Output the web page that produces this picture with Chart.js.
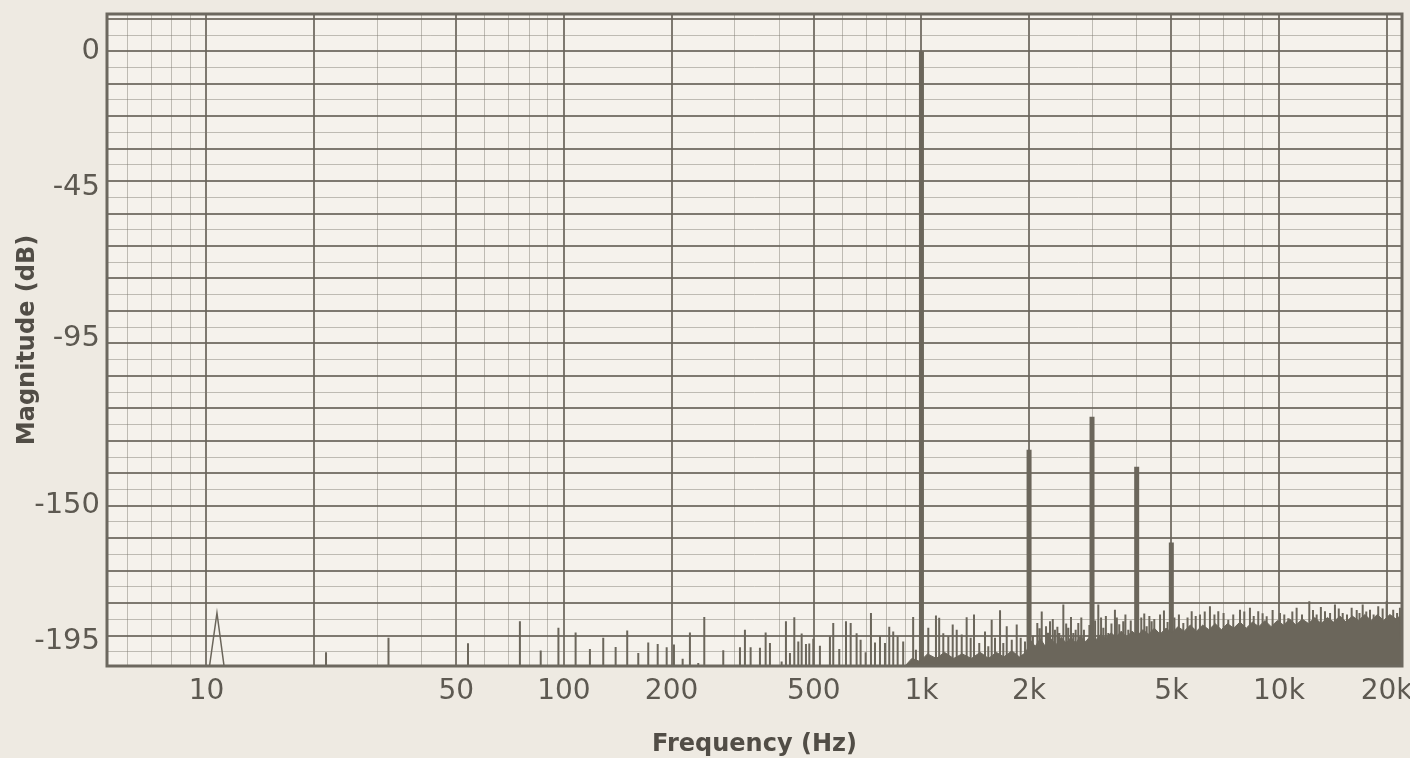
<!DOCTYPE html>
<html>
<head>
<meta charset="utf-8">
<script src="https://cdn.jsdelivr.net/npm/chart.js@4.4.1/dist/chart.umd.min.js"></script>
<style>
html,body{margin:0;padding:0;background:#eeeae2;}
#wrap{width:1410px;height:758px;position:relative;}
</style>
</head>
<body>
<div id="wrap"><canvas id="c" width="1410" height="758"></canvas></div>
<script>
// ---------------- data ----------------
const harmonicFreq = [1000, 2000, 3000, 4000, 5000];
const harmonicDb   = [0, -131.6, -120.7, -137.2, -162.2];

const humFreq = [10.2, 10.7, 11.2];
const humDb   = [-203, -185.5, -203];

const spikeFreq = [
  21.6, 32.3, 53.9, 75.3, 86.1, 96.5, 107.8, 118.2, 128.8, 139.5, 150.3, 161.4, 172.1, 182.9, 193.8,
  203.1, 214.8, 225.1, 237.5, 246.9, 279, 310.7, 320.8, 332.8, 353.4, 366.6, 376.9, 406.3, 417.8, 428.7,
  440.9, 452.4, 462.3, 475.3, 485.6, 498.3, 520, 554.6, 566.6, 589, 615, 633.9, 658.6, 675.8, 698,
  722.4, 741.3, 765.6, 790.6, 812.7, 833.8, 857.9, 889, 948, 965,
  1045, 1098, 1121, 1151, 1189, 1223, 1255, 1296, 1338, 1373, 1403, 1451, 1506, 1538, 1572, 1606, 1659,
  1694, 1732, 1789, 1847, 1895, 1948,
  2050, 2109, 2140, 2170, 2231, 2260, 2289, 2330, 2363, 2400, 2430, 2494, 2540, 2575, 2620, 2659, 2700,
  2746, 2800, 2848, 2950, 3060, 3124, 3180, 3227, 3280, 3331, 3400, 3477, 3520, 3575, 3668, 3720, 3789,
  3850, 4120, 4200, 4266, 4340, 4405, 4480, 4550, 4650, 4768, 4880, 5100, 5250, 5401, 5550, 5700, 5850,
  6012, 6200, 6412, 6600, 6766, 7000, 7215, 7450, 7780, 8000, 8296, 8500, 8752, 9000, 9240, 9600,
  10065, 10350, 10617, 10900, 11206, 11600, 12159, 12450, 12750, 13100, 13452, 13900, 14343, 14700,
  15077, 15500, 15973, 16500, 16800, 17149, 17550, 17976, 18400, 18955, 19500, 20010, 20875, 21400, 21800
];
const spikeDb = [
  -198.5, -193.7, -195.5, -188.2, -197.9, -190.4, -191.9, -197.4, -193.7, -196.7, -191.3, -198.7, -195.2, -195.7, -196.8,
  -195.9, -200.6, -191.9, -202, -186.8, -197.8, -196.8, -191, -196.8, -197, -191.9, -195.4, -201.5, -188.2, -198.7,
  -186.9, -194.9, -192.3, -195.7, -195.6, -194, -196.3, -193.2, -188.8, -197.4, -188.2, -188.8, -192.2, -194.3, -198.5,
  -185.5, -195.2, -193.2, -195.4, -190, -191.6, -193.2, -194.9, -186.8, -197.6,
  -190.4, -186.3, -187.1, -192.2, -193.2, -189.3, -191, -192.6, -186.9, -193.7, -186, -195.4, -191.6, -196.5, -187.7, -193.7, -184.6,
  -195.4, -189.9, -194.3, -189.3, -193.7, -194.9,
  -193, -188.8, -190.5, -185, -189.9, -192, -188.2, -187.5, -191, -190, -192.1, -182.7, -189, -190.4, -186.8, -192.1, -191,
  -188.8, -187, -191, -189.5, -188, -182.7, -187, -190.4, -186.5, -192.1, -189, -184.4, -187, -189.2, -188.2, -186, -191,
  -188, -187, -185.7, -189.9, -186.5, -188.2, -187.5, -192.1, -186, -184.7, -188.5, -187, -186, -188.8, -187, -184.9, -186.5,
  -186, -185, -183.3, -186, -184.9, -185.5, -187.7, -186, -184.4, -185, -183.8, -186.5, -184.9, -185.6, -186.6, -184.5,
  -185.5, -186, -187.2, -185, -183.8, -186, -181.6, -184.5, -186, -183.5, -184.9, -185.5, -182.7, -184,
  -185.5, -186, -183.8, -184.5, -185.5, -182.7, -185, -184.4, -186, -183.3, -184, -181.6, -184.4, -185.5, -183.8
];

const floorFreq = [
  900, 940, 990, 1040, 1100, 1160, 1230, 1300, 1380, 1460, 1540, 1620, 1700, 1790, 1880, 1960,
  2020, 2080, 2150, 2220, 2300, 2380, 2460, 2540, 2620, 2700, 2790, 2880, 2970, 3070, 3170, 3280,
  3390, 3500, 3620, 3750, 3880, 4020, 4160, 4320, 4480, 4650, 4830, 5020, 5220, 5430, 5650, 5880,
  6120, 6370, 6630, 6900, 7180, 7470, 7780, 8100, 8430, 8780, 9140, 9510, 9900, 10300, 10720, 11160,
  11620, 12100, 12600, 13120, 13660, 14220, 14800, 15410, 16040, 16700, 17390, 18100, 18850, 19620,
  20430, 21270, 21800, 21950
];
const floorDb = [
  -203, -200.5, -201.5, -199, -200.5, -198.5, -200.5, -199, -200.5, -198.5, -200.5, -198.5, -200, -198, -200, -198.5,
  -194.5, -196.5, -194, -196.5, -194, -196, -193.5, -195.5, -193.5, -195.5, -193, -195, -193, -194.5, -192.5, -194,
  -192, -193.5, -191.5, -193.5, -191.5, -193, -191, -192.5, -190.5, -192.5, -190.5, -192, -190, -191.5, -189.5, -191.5,
  -189.5, -191, -189, -191, -189, -190.5, -188.5, -190.5, -188.5, -190, -188, -190, -188, -189.5, -187.5, -189.5,
  -187.5, -189, -187, -189, -187, -188.5, -186.5, -188.5, -186.5, -188, -186, -188, -186, -188,
  -186, -187.5, -186.5, -203
];

const xTickValues = [10, 50, 100, 200, 500, 1000, 2000, 5000, 10000, 20000];
const xTickLabels = ['10', '50', '100', '200', '500', '1k', '2k', '5k', '10k', '20k'];
const yTickValues = [0, -45, -95, -150, -195];

// ---------------- layout / style ----------------
const X_MIN = 5.27, X_MAX = 22090, Y_MIN = -203, Y_MAX = 12.3;
const GRID_STEP = 5.36;
const INK = '#6b665b';
const DARK = 'rgba(104,100,90,0.85)';
const LIGHT = 'rgba(125,120,110,0.45)';
const FONT = 'DejaVu Sans';

const xGridValues = [];
[1, 10, 100, 1000, 10000].forEach(d => {
  for (let m = 1; m <= 9; m++) {
    const v = m * d;
    if (v > X_MIN && v < X_MAX) xGridValues.push(v);
  }
});
const xDarkSet = new Set([10, 20, 50, 100, 200, 500, 1000, 2000, 5000, 10000, 20000]);

// build point lists from the arrays
const spikePts = [];
spikeFreq.forEach((f, i) => {
  spikePts.push({x: f, y: Y_MIN}, {x: f, y: spikeDb[i]}, {x: f, y: null});
});
const harmPts = [];
harmonicFreq.forEach((f, i) => {
  harmPts.push({x: f, y: Y_MIN}, {x: f, y: harmonicDb[i]}, {x: f, y: null});
});
const floorPts = floorFreq.map((f, i) => ({x: f, y: floorDb[i]}));
const humPts = humFreq.map((f, i) => ({x: f, y: humDb[i]}));

const paperPlugin = {
  id: 'paper',
  beforeDraw(chart) {
    const {ctx, chartArea: a} = chart;
    ctx.save();
    ctx.fillStyle = '#eeeae2';
    ctx.fillRect(0, 0, chart.width, chart.height);
    ctx.fillStyle = '#f5f2ec';
    ctx.fillRect(a.left, a.top, a.right - a.left, a.bottom - a.top);
    ctx.restore();
  },
  afterDraw(chart) {
    const {ctx, chartArea: a} = chart;
    ctx.save();
    ctx.strokeStyle = '#6c685f';
    ctx.lineWidth = 3;
    ctx.strokeRect(a.left, a.top, a.right - a.left, a.bottom - a.top);
    ctx.restore();
  }
};

new Chart(document.getElementById('c'), {
  type: 'line',
  data: {
    datasets: [
      {data: floorPts, borderColor: INK, backgroundColor: INK, borderWidth: 1, fill: 'start', pointRadius: 0, tension: 0},
      {data: spikePts, borderColor: INK, borderWidth: 2, fill: false, pointRadius: 0, spanGaps: false, borderCapStyle: 'butt'},
      {data: humPts, borderColor: INK, borderWidth: 1.5, fill: false, pointRadius: 0, tension: 0},
      {data: harmPts, borderColor: INK, borderWidth: 5, fill: false, pointRadius: 0, spanGaps: false, borderCapStyle: 'butt'}
    ]
  },
  options: {
    responsive: false,
    animation: false,
    devicePixelRatio: 1,
    layout: {padding: {top: 14, right: 8, left: 0, bottom: 0}},
    plugins: {legend: {display: false}, tooltip: {enabled: false}},
    scales: {
      x: {
        type: 'logarithmic', position: 'bottom', min: X_MIN, max: X_MAX,
        afterBuildTicks: s => { s.ticks = xGridValues.map(v => ({value: v})); },
        ticks: {
          autoSkip: false, maxRotation: 0, minRotation: 0, padding: 9,
          font: {family: FONT, size: 28}, color: '#5d5951',
          callback: v => { const i = xTickValues.indexOf(v); return i >= 0 ? xTickLabels[i] : ''; }
        },
        grid: {
          drawTicks: false,
          color: c => xDarkSet.has(c.tick && c.tick.value) ? DARK : LIGHT,
          lineWidth: c => xDarkSet.has(c.tick && c.tick.value) ? 2 : 1
        },
        border: {display: false},
        title: {display: true, text: 'Frequency (Hz)', color: '#514d46',
          font: {family: FONT, size: 24, weight: 'bold', lineHeight: 1}, padding: {top: 0, bottom: 1}},
        afterFit: s => { s.height = 92; s.paddingLeft = 0; s.paddingRight = 0; }
      },
      y: {
        type: 'linear', position: 'left', min: Y_MIN, max: Y_MAX,
        afterBuildTicks: s => { s.ticks = yTickValues.map(v => ({value: v})); },
        ticks: {font: {family: FONT, size: 29}, color: '#5d5951', padding: 7, callback: v => String(v)},
        grid: {display: false, drawTicks: false},
        border: {display: false},
        title: {display: true, text: 'Magnitude (dB)', color: '#514d46',
          font: {family: FONT, size: 24, weight: 'bold', lineHeight: 1}, padding: {top: 16, bottom: 0}},
        afterFit: s => { s.width = 107; s.paddingTop = 0; s.paddingBottom = 0; }
      },
      yg: {
        type: 'linear', position: 'left', min: Y_MIN, max: Y_MAX,
        afterBuildTicks: s => {
          const t = [];
          for (let k = -2; k <= 38; k++) {
            const v = -k * GRID_STEP;
            if (v > Y_MIN + 0.5 && v < Y_MAX - 0.5) t.push({value: v});
          }
          s.ticks = t;
        },
        ticks: {display: false},
        grid: {
          drawTicks: false,
          color: c => (Math.abs(Math.round(c.tick.value / GRID_STEP)) % 2 === 0) ? DARK : LIGHT,
          lineWidth: c => (Math.abs(Math.round(c.tick.value / GRID_STEP)) % 2 === 0) ? 2 : 1
        },
        border: {display: false},
        afterFit: s => { s.width = 0; }
      }
    }
  },
  plugins: [paperPlugin]
});
</script>
</body>
</html>
